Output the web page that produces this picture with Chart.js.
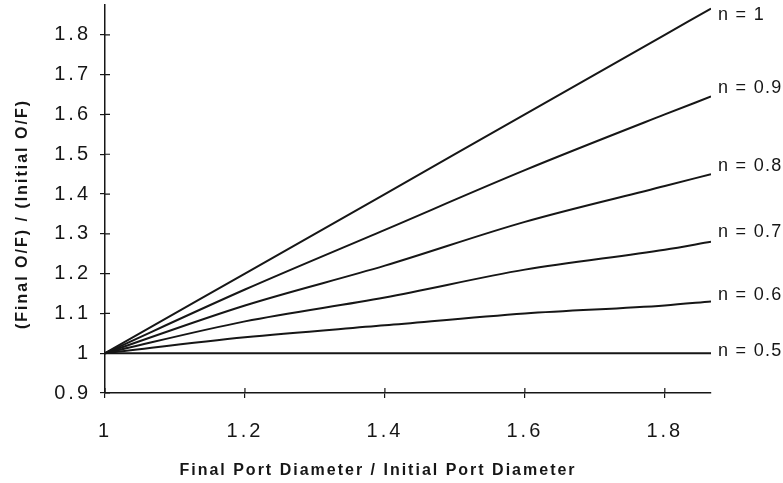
<!DOCTYPE html>
<html>
<head>
<meta charset="utf-8">
<script src="https://cdn.jsdelivr.net/npm/chart.js@4/dist/chart.umd.min.js"></script>
<style>
  html, body { margin: 0; padding: 0; background: #fff; }
  #wrap { width: 783px; height: 483px; }
</style>
</head>
<body>
<div id="wrap"><canvas id="myChart"></canvas></div>
<script>
// values
var diameterRatio = [1, 1.2, 1.4, 1.6, 1.8, 1.866];
var n10 = [1, 1.2, 1.4, 1.6, 1.8, 1.866];
var n09 = [1, 1.16, 1.31, 1.46, 1.60, 1.645];
var n08 = [1, 1.12, 1.22, 1.33, 1.42, 1.45];
var n07 = [1, 1.08, 1.14, 1.21, 1.26, 1.28];
var n06 = [1, 1.04, 1.07, 1.10, 1.12, 1.13];
var n05 = [1, 1, 1, 1, 1, 1];
var seriesNames = ["n = 1", "n = 0.9", "n = 0.8", "n = 0.7", "n = 0.6", "n = 0.5"];
var xTicks = [1, 1.2, 1.4, 1.6, 1.8];
var yTicks = [0.9, 1, 1.1, 1.2, 1.3, 1.4, 1.5, 1.6, 1.7, 1.8];
var xTitle = "Final Port Diameter / Initial Port Diameter";
var yTitle = "(Final O/F) / (Initial O/F)";

var ink = "#161616";
var fam = "'Liberation Sans', Arial, sans-serif";
var labelDy = [6, -8, -8, -10, -6, -2];

function toPoints(ys) {
  return diameterRatio.map(function (x, i) { return { x: x, y: ys[i] }; });
}

var datasets = [n10, n09, n08, n07, n06, n05].map(function (ys, i) {
  return {
    label: seriesNames[i],
    data: toPoints(ys),
    borderColor: ink,
    borderWidth: 2,
    fill: false,
    cubicInterpolationMode: "monotone",
    pointRadius: 0
  };
});

// line end labels, inner tick halves, axis titles
var decor = {
  id: "decor",
  beforeDraw: function (chart) {
    chart.ctx.letterSpacing = "3px";
  },
  afterDraw: function (chart) {
    var ctx = chart.ctx;
    var area = chart.chartArea;
    var xs = chart.scales.x, ys = chart.scales.y;
    ctx.save();
    ctx.strokeStyle = ink;
    ctx.lineWidth = 1.2;
    ctx.beginPath();
    xTicks.forEach(function (v) {
      var px = xs.getPixelForValue(v);
      ctx.moveTo(px, area.bottom);
      ctx.lineTo(px, area.bottom - 5);
    });
    yTicks.forEach(function (v) {
      var py = ys.getPixelForValue(v);
      ctx.moveTo(area.left, py);
      ctx.lineTo(area.left + 5, py);
    });
    ctx.stroke();

    ctx.fillStyle = ink;
    ctx.letterSpacing = "1.3px";
    ctx.font = "18px " + fam;
    ctx.textAlign = "left";
    ctx.textBaseline = "middle";
    chart.data.datasets.forEach(function (ds, i) {
      var pts = chart.getDatasetMeta(i).data;
      var p = pts[pts.length - 1];
      ctx.fillText(ds.label, p.x + 7, p.y + labelDy[i]);
    });

    ctx.letterSpacing = "2px";
    ctx.font = "bold 16px " + fam;
    ctx.textAlign = "center";
    ctx.fillText(xTitle, (area.left + area.right) / 2 - 30, 471);
    ctx.translate(23, (area.top + area.bottom) / 2 + 15);
    ctx.rotate(-Math.PI / 2);
    ctx.fillText(yTitle, 0, 0);
    ctx.restore();
  }
};

var chart = new Chart(document.getElementById("myChart"), {
  type: "line",
  data: { datasets: datasets },
  plugins: [decor],
  options: {
    responsive: true,
    maintainAspectRatio: false,
    animation: false,
    layout: { padding: { top: 5, right: 72, left: 0, bottom: 0 } },
    plugins: { legend: { display: false }, tooltip: { enabled: false } },
    scales: {
      x: {
        type: "linear",
        min: 1,
        max: 1.866,
        afterBuildTicks: function (s) { s.ticks = xTicks.map(function (v) { return { value: v }; }); },
        afterFit: function (s) { s.height = 90; s.paddingLeft = 0; s.paddingRight = 0; },
        grid: { drawOnChartArea: false, drawTicks: true, tickLength: 5, color: ink, lineWidth: 1.2 },
        border: { display: true, color: ink, width: 1.5 },
        ticks: {
          padding: 21,
          maxRotation: 0,
          color: ink,
          font: { family: fam, size: 20 },
          callback: function (v) { return String(+v.toFixed(1)); }
        }
      },
      y: {
        min: 0.9,
        max: 1.875,
        afterBuildTicks: function (s) { s.ticks = yTicks.map(function (v) { return { value: v }; }); },
        afterFit: function (s) { s.width = 105; s.paddingTop = 0; s.paddingBottom = 0; },
        grid: { drawOnChartArea: false, drawTicks: true, tickLength: 5, color: ink, lineWidth: 1.2 },
        border: { display: true, color: ink, width: 1.5 },
        ticks: {
          padding: 9,
          color: ink,
          font: { family: fam, size: 20 },
          callback: function (v) { return String(+v.toFixed(1)); }
        }
      }
    }
  }
});
</script>
</body>
</html>
